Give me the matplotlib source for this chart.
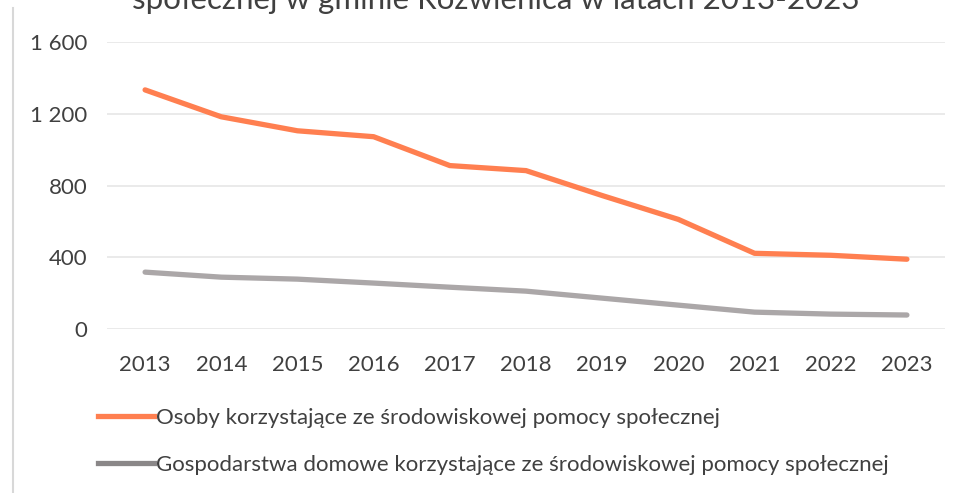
import matplotlib
matplotlib.use("Agg")
import matplotlib.pyplot as plt
from matplotlib.lines import Line2D

years = [2013, 2014, 2015, 2016, 2017, 2018, 2019, 2020, 2021, 2022, 2023]
osoby = [1333, 1183, 1105, 1072, 911, 883, 744, 611, 422, 411, 389]
gospodarstwa = [317, 289, 278, 256, 233, 211, 172, 133, 94, 83, 78]
yticks = [0, 400, 800, 1200, 1600]
ytick_labels = ["0", "400", "800", "1 200", "1 600"]
label_osoby = "Osoby korzystające ze środowiskowej pomocy społecznej"
label_gosp = "Gospodarstwa domowe korzystające ze środowiskowej pomocy społecznej"
title = "społecznej w gminie Rozwienica w latach 2013-2023"

plt.rcParams['font.family'] = ['Lato', 'DejaVu Sans']
orange = "#FF7F50"
gray = "#ABA7A8"
txt = "#404040"

fig = plt.figure(figsize=(9.6, 4.93), dpi=100)
ax = fig.add_axes([107/960, (493-329)/493, (945-107)/960, (329-42)/493])

ax.plot(years, osoby, color=orange, lw=3.8, solid_capstyle='round')
ax.plot(years, gospodarstwa, color=gray, lw=3.8, solid_capstyle='round')

ax.set_xlim(2012.5, 2023.5)
ax.set_ylim(0, 1600)
ax.set_yticks(yticks)
ax.set_yticklabels(ytick_labels)
ax.set_xticks(years)
ax.set_xticklabels([str(y) for y in years])
ax.tick_params(length=0, labelsize=16, colors=txt)
ax.tick_params(axis='y', pad=14)
ax.tick_params(axis='x', pad=19)
ax.grid(axis='y', color="#E6E6E6", lw=1.2)
ax.set_axisbelow(True)
for s in ax.spines.values():
    s.set_visible(False)

# partially visible title (cut off at top, as in the scanned reference)
fig.text(0.516, 1.0 - 9/493, title, ha='center', va='baseline', fontsize=22.5, color=txt)

# left frame line of the scanned chart
fig.add_artist(Line2D([13/960, 13/960], [0, 1 - 8/493], color="#D8D8D8", lw=1.5))

h1 = Line2D([], [], color=orange, lw=3.8)
h2 = Line2D([], [], color="#8A8788", lw=3.8)
for h, lab, yy in [(h1, label_osoby, 418), (h2, label_gosp, 465)]:
    fig.legend([h], [lab], loc='center left', bbox_to_anchor=(98/960, 1 - yy/493),
               frameon=False, fontsize=16, labelcolor=txt, handlelength=2.5,
               handletextpad=0.1, borderaxespad=0, borderpad=0)

fig.savefig("out.png", dpi=100, facecolor="white")
